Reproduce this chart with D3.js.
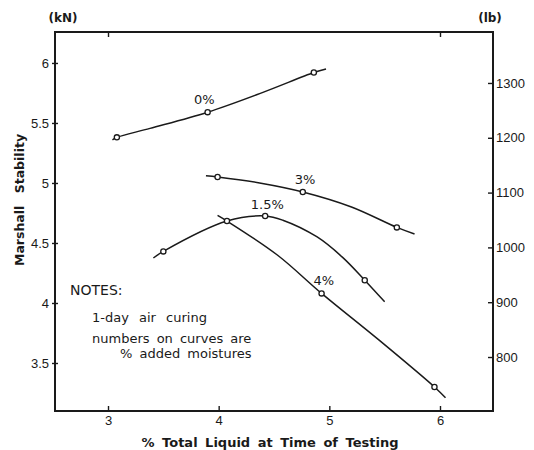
<!DOCTYPE html>
<html>
<head>
<meta charset="utf-8">
<script src="https://cdn.jsdelivr.net/npm/d3@7"></script>
<style>
  body { margin: 0; background: #fff; }
  svg { font-family: "DejaVu Sans", sans-serif; fill: #1a1a1a; }
  .tick text { font-size: 13px; fill: #1a1a1a; }
  .tick line { stroke: #1a1a1a; stroke-width: 1.4px; }
  .curve { fill: none; stroke: #1a1a1a; stroke-width: 1.5px; }
  .mark { fill: #fff; stroke: #1a1a1a; stroke-width: 1.3px; }
</style>
</head>
<body>
<svg id="chart" width="534" height="450"></svg>
<script>
  // axis ticks
  const xTicks = [3, 4, 5, 6];
  const xTopTicks = [3, 6];
  const kNTicks = [3.5, 4, 4.5, 5, 5.5, 6];
  const lbTicks = [800, 900, 1000, 1100, 1200, 1300];

  // measured points (x = % total liquid, y = kN)
  const marks0 = [[3.08, 5.38], [3.90, 5.59], [4.86, 5.92]];
  const marks3 = [[3.99, 5.05], [4.76, 4.925], [5.61, 4.63]];
  const marks15 = [[3.50, 4.43], [4.42, 4.725], [5.32, 4.19]];
  const marks4 = [[4.075, 4.683], [4.93, 4.08], [5.95, 3.30]];

  // hand drawn curves
  const trace0 = [[3.04, 5.36], [3.08, 5.38], [3.38, 5.455], [3.90, 5.59], [4.40, 5.755], [4.86, 5.92], [4.97, 5.95]];
  const trace3 = [[3.885, 5.06], [3.99, 5.05], [4.37, 5.00], [4.76, 4.925], [5.20, 4.80], [5.61, 4.63], [5.77, 4.575]];
  const trace15 = [[3.41, 4.375], [3.50, 4.43], [4.075, 4.683], [4.42, 4.725], [4.58, 4.69], [4.89, 4.55], [5.12, 4.38], [5.32, 4.19], [5.50, 4.01]];
  const trace4 = [[3.99, 4.73], [4.075, 4.683], [4.53, 4.40], [4.93, 4.08], [5.45, 3.69], [5.95, 3.30], [6.05, 3.21]];

  const curveLabels = ['0%', '3%', '1.5%', '4%'];
  const labelAt = [[3.87, 5.66], [4.78, 4.99], [4.44, 4.78], [4.95, 4.15]];

  const notes = ['1-day air curing', 'numbers on curves are', '% added moistures'];

  const svg = d3.select('#chart');
  const frame = {left: 55, right: 493, top: 32, bottom: 411};

  const x = d3.scaleLinear().domain([2.521, 6.479]).range([frame.left, frame.right]);
  const y = d3.scaleLinear().domain([3.1, 6.258]).range([frame.bottom, frame.top]);
  const yLb = d3.scaleLinear().domain([701.5, 1393]).range([frame.bottom, frame.top]);

  // bottom axis
  const gx = svg.append('g').attr('transform', `translate(0,${frame.bottom})`)
    .call(d3.axisBottom(x).tickValues(xTicks).tickSizeInner(-5).tickSizeOuter(0).tickPadding(5).tickFormat(d3.format('d')));
  gx.select('.domain').remove();

  const gt = svg.append('g').attr('transform', `translate(0,${frame.top})`)
    .call(d3.axisTop(x).tickValues(xTopTicks).tickSizeInner(-5).tickSizeOuter(0).tickFormat(''));
  gt.select('.domain').remove();

  // left axis (kN)
  const gy = svg.append('g').attr('transform', `translate(${frame.left},0)`)
    .call(d3.axisLeft(y).tickValues(kNTicks).tickSizeInner(3).tickSizeOuter(0).tickPadding(3).tickFormat(d => d));
  gy.select('.domain').remove();
  gy.selectAll('.tick line').attr('x1', -3).attr('x2', 3);

  // right axis (lb)
  const gr = svg.append('g').attr('transform', `translate(${frame.right},0)`)
    .call(d3.axisRight(yLb).tickValues(lbTicks).tickSizeInner(-5).tickSizeOuter(0).tickPadding(3).tickFormat(d => d));
  gr.select('.domain').remove();

  // frame
  svg.append('rect')
    .attr('x', frame.left).attr('y', frame.top)
    .attr('width', frame.right - frame.left).attr('height', frame.bottom - frame.top)
    .attr('fill', 'none').attr('stroke', '#1a1a1a').attr('stroke-width', 2);

  const line = d3.line()
    .x(d => x(d[0]))
    .y(d => y(d[1]))
    .curve(d3.curveCatmullRom.alpha(0.5));

  const traces = [trace0, trace3, trace15, trace4];
  const marks = [marks0, marks3, marks15, marks4];

  svg.selectAll('path.curve').data(traces).enter()
    .append('path').attr('class', 'curve').attr('d', line);

  svg.selectAll('circle.mark').data(marks.flat()).enter()
    .append('circle').attr('class', 'mark')
    .attr('cx', d => x(d[0])).attr('cy', d => y(d[1])).attr('r', 2.6);

  svg.selectAll('text.clabel').data(curveLabels).enter()
    .append('text').attr('class', 'clabel')
    .attr('x', (d, i) => x(labelAt[i][0]))
    .attr('y', (d, i) => y(labelAt[i][1]))
    .attr('text-anchor', 'middle')
    .attr('font-size', 13)
    .text(d => d);

  // unit labels
  svg.append('text').attr('x', 63).attr('y', 22).attr('text-anchor', 'middle')
    .attr('font-size', 12).attr('font-weight', 'bold').text('(kN)');
  svg.append('text').attr('x', 490).attr('y', 22).attr('text-anchor', 'middle')
    .attr('font-size', 12).attr('font-weight', 'bold').text('(lb)');

  // axis titles
  svg.append('text').attr('x', 270).attr('y', 447).attr('text-anchor', 'middle')
    .attr('font-size', 13).attr('font-weight', 'bold').attr('word-spacing', 3)
    .text('% Total Liquid at Time of Testing');
  svg.append('text')
    .attr('transform', 'translate(24,200) rotate(-90)')
    .attr('text-anchor', 'middle')
    .attr('font-size', 12.5).attr('font-weight', 'bold').attr('word-spacing', 8)
    .text('Marshall Stability');

  // notes
  svg.append('text').attr('x', 70).attr('y', 295).attr('font-size', 14).text('NOTES:');
  svg.selectAll('text.note').data(notes).enter()
    .append('text').attr('class', 'note')
    .attr('x', (d, i) => i === 2 ? 120 : 92)
    .attr('y', (d, i) => [322, 343, 358][i])
    .attr('font-size', 13).attr('word-spacing', (d, i) => i === 0 ? 6 : 3)
    .text(d => d);
</script>
</body>
</html>
